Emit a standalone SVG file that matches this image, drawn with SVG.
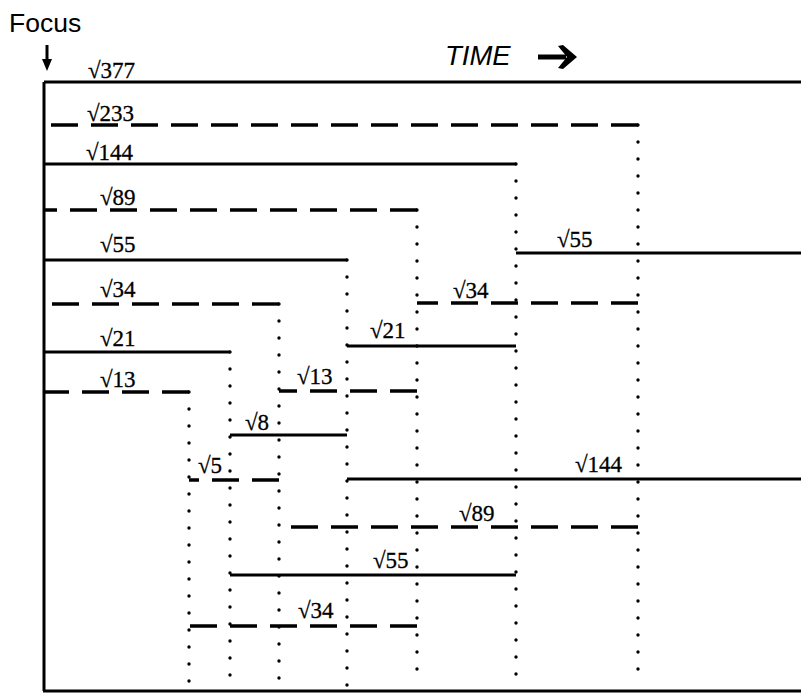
<svg xmlns="http://www.w3.org/2000/svg" width="801" height="694" viewBox="0 0 801 694">
<style>
.s{stroke:#000;stroke-width:3;fill:none}
.d{stroke:#000;stroke-width:3.4;fill:none;stroke-dasharray:27 13}
.dot{stroke:#000;stroke-width:3.4;fill:none;stroke-dasharray:0 17;stroke-linecap:round}
.lbl{font-family:"Liberation Serif","Times New Roman",serif;font-size:23px;fill:#000;stroke:#000;stroke-width:0.3}
.hdr{font-family:"Liberation Sans",Arial,sans-serif;fill:#000}
</style>
<rect width="801" height="694" fill="#fff"/>
<g id="header">
<text class="hdr" x="9" y="32" font-size="26.5">Focus</text>
<line x1="47" y1="45" x2="47" y2="61" stroke="#000" stroke-width="3"/>
<polygon points="42,59 52,59 47,71" fill="#000"/>
<text class="hdr" x="445" y="65" font-size="27.5" font-style="italic">TIME</text>
<line x1="538" y1="57" x2="566" y2="57" stroke="#000" stroke-width="5"/>
<polygon points="558,46 563,45 577,57 563,69 558,68 567,57" fill="#000"/>
</g>
<g id="frame">
<line class="s" x1="44" y1="82" x2="44" y2="691"/>
<line class="s" x1="43" y1="691" x2="801" y2="691"/>
</g>
<g id="connectors">
<line class="dot" x1="638" y1="125" x2="638" y2="686"/>
<line class="dot" x1="516" y1="164" x2="516" y2="686"/>
<line class="dot" x1="417" y1="210" x2="417" y2="686"/>
<line class="dot" x1="347" y1="260" x2="347" y2="686"/>
<line class="dot" x1="279" y1="304" x2="279" y2="686"/>
<line class="dot" x1="230" y1="352" x2="230" y2="686"/>
<line class="dot" x1="189" y1="392" x2="189" y2="686"/>
</g>
<g id="n377"><line class="s" x1="44" y1="82" x2="801" y2="82"/><text class="lbl" x="88" y="78">√377</text></g>
<g id="n233"><line class="d" x1="638" y1="125" x2="44" y2="125"/><text class="lbl" x="87" y="121">√233</text></g>
<g id="n144a"><line class="s" x1="44" y1="164" x2="516" y2="164"/><text class="lbl" x="86" y="160">√144</text></g>
<g id="n89a"><line class="d" x1="417" y1="210" x2="44" y2="210"/><text class="lbl" x="100" y="205">√89</text></g>
<g id="n55a"><line class="s" x1="44" y1="260" x2="347" y2="260"/><text class="lbl" x="100" y="252">√55</text></g>
<g id="n34a"><line class="d" x1="279" y1="304" x2="44" y2="304"/><text class="lbl" x="100" y="297">√34</text></g>
<g id="n21a"><line class="s" x1="44" y1="352" x2="230" y2="352"/><text class="lbl" x="100" y="346">√21</text></g>
<g id="n13a"><line class="d" x1="189" y1="392" x2="44" y2="392"/><text class="lbl" x="100" y="387">√13</text></g>
<g id="n55b"><line class="s" x1="516" y1="253" x2="801" y2="253"/><text class="lbl" x="557" y="247">√55</text></g>
<g id="n34b"><line class="d" x1="638" y1="303" x2="417" y2="303"/><text class="lbl" x="453" y="298">√34</text></g>
<g id="n21b"><line class="s" x1="347" y1="346" x2="516" y2="346"/><text class="lbl" x="370" y="338">√21</text></g>
<g id="n13b"><line class="d" x1="417" y1="391" x2="279" y2="391"/><text class="lbl" x="297" y="384">√13</text></g>
<g id="n8"><line class="s" x1="230" y1="435" x2="347" y2="435"/><text class="lbl" x="245" y="430">√8</text></g>
<g id="n5"><line class="d" x1="279" y1="480" x2="189" y2="480"/><text class="lbl" x="198" y="473">√5</text></g>
<g id="n144b"><line class="s" x1="347" y1="479" x2="801" y2="479"/><text class="lbl" x="575" y="472">√144</text></g>
<g id="n89b"><line class="d" x1="638" y1="527" x2="281" y2="527"/><text class="lbl" x="459" y="521">√89</text></g>
<g id="n55c"><line class="s" x1="230" y1="575" x2="516" y2="575"/><text class="lbl" x="373" y="568">√55</text></g>
<g id="n34c"><line class="d" x1="417" y1="626" x2="189" y2="626"/><text class="lbl" x="298" y="618">√34</text></g>
</svg>
